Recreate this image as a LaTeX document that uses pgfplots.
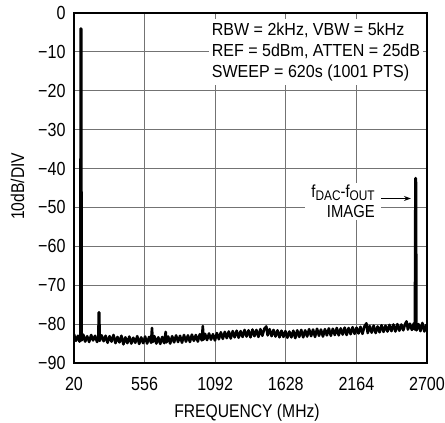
\documentclass[border=0pt]{standalone}
\usepackage{fontspec}
\setmainfont{Liberation Sans}[FakeStretch=0.85]
\newfontfamily\annfont{Liberation Sans}[FakeStretch=0.92]
\usepackage{pgfplots}
\pgfplotsset{compat=1.18}
\usetikzlibrary{arrows.meta}

\pgfplotstableread{
f     p
20    -82.6
35    -84.3
50    -83.0
62    -84.5
68    -83.4
71    -4
75    -4
78    -84.2
90    -82.7
105   -84.5
120   -83.1
135   -84.6
150   -82.8
165   -84.2
180   -83.0
195   -84.6
205   -83.2
208   -77
212   -77
215   -84.3
230   -82.9
245   -84.4
260   -83.0
275   -84.8
290   -83.1
305   -84.5
320   -82.8
335   -84.9
350   -83.3
365   -84.7
380   -83.0
395   -85.2
410   -83.4
425   -84.9
440   -83.2
455   -85.0
470   -83.5
485   -84.8
500   -83.1
515   -85.1
530   -83.4
545   -84.9
560   -83.2
575   -85.0
590   -83.3
605   -84.8
612   -81.0
618   -84.6
630   -83.1
645   -85.0
660   -83.4
675   -85.1
690   -83.3
705   -84.9
716   -82.0
722   -84.7
735   -83.2
750   -85.0
765   -83.1
780   -84.7
795   -82.9
810   -84.6
825   -83.0
840   -84.8
855   -82.8
870   -84.5
885   -82.9
900   -84.6
915   -82.7
930   -84.3
945   -82.8
960   -84.5
975   -82.6
990   -84.2
998   -80.5
1003  -84.0
1015  -82.5
1030  -84.1
1045  -82.4
1060  -84.0
1075  -82.6
1090  -84.2
1105  -82.3
1120  -83.9
1135  -82.1
1150  -83.8
1165  -82.0
1180  -83.6
1195  -81.9
1210  -83.7
1225  -81.8
1240  -83.4
1255  -81.7
1270  -83.5
1285  -81.8
1300  -83.3
1315  -81.5
1330  -83.2
1345  -81.6
1360  -83.4
1375  -81.4
1390  -83.1
1405  -81.5
1420  -83.3
1435  -81.3
1450  -83.0
1465  -81.2
1480  -80.6
1490  -82.9
1505  -81.3
1520  -83.1
1535  -81.5
1550  -83.2
1565  -81.6
1580  -83.4
1595  -81.7
1610  -83.3
1625  -81.8
1640  -83.5
1655  -81.9
1670  -83.4
1685  -81.7
1700  -83.6
1715  -81.6
1730  -83.3
1745  -81.5
1760  -83.4
1775  -81.6
1790  -83.2
1805  -81.3
1820  -83.1
1835  -81.4
1850  -83.3
1865  -81.2
1880  -83.0
1895  -81.4
1910  -83.2
1925  -81.3
1940  -82.9
1955  -81.1
1970  -83.0
1985  -81.2
2000  -82.8
2015  -81.0
2030  -82.9
2045  -81.1
2060  -82.7
2075  -80.9
2090  -82.8
2105  -81.0
2120  -82.6
2135  -80.8
2150  -82.5
2165  -80.9
2180  -82.4
2195  -80.7
2210  -82.5
2225  -80.6
2240  -79.8
2250  -82.3
2265  -80.5
2280  -82.2
2295  -80.4
2310  -82.3
2325  -80.6
2340  -82.1
2355  -80.3
2370  -82.0
2385  -80.4
2400  -81.9
2415  -80.2
2430  -81.8
2445  -80.1
2460  -81.9
2475  -80.0
2490  -81.7
2505  -80.1
2520  -81.6
2535  -79.9
2545  -79.3
2555  -81.4
2570  -79.9
2585  -81.5
2600  -79.8
2608  -81.4
2612  -42.5
2616  -42.5
2620  -81.6
2635  -80.0
2650  -81.8
2665  -79.7
2680  -81.9
2695  -80.2
2700  -81.6
}\spectrum

\newcommand{\sub}[1]{\raisebox{-0.18em}{\fontsize{14}{14}\selectfont #1}}

\begin{document}
\begin{tikzpicture}
\begin{axis}[
  scale only axis,
  width=353bp, height=350bp,
  xmin=20, xmax=2700,
  ymin=-90, ymax=0,
  xtick={20,556,1092,1628,2164,2700},
  xticklabels={20,556,1092,1628,2164,2700},
  ytick={-90,-80,...,0},
  yticklabels={−90,−80,−70,−60,−50,−40,−30,−20,−10,0},
  major tick length=0pt,
  grid=major,
  major grid style={black!55, line width=0.9bp},
  axis line style={line width=1.4bp},
  tick label style={font=\fontsize{19}{21}\selectfont},
  xticklabel style={yshift=-11bp},
  yticklabel style={xshift=-5bp},
  xlabel={FREQUENCY (MHz)},
  ylabel={10dB/DIV},
  label style={font=\fontsize{18.5}{20}\selectfont},
  xlabel style={at={(axis description cs:0.49,-0.157)}, anchor=base},
  ylabel style={at={(axis description cs:-0.1416,0.505)}, anchor=base},
  clip=true,
]
\addplot[black, line width=2.6bp, line join=round] table[x=f, y=p] {\spectrum};

\node[anchor=north east, fill=white, align=left, inner sep=3bp,
      font=\annfont\fontsize{17.5}{21.5}\selectfont]
  at (axis cs:2672,-1.6)
  {RBW = 2kHz, VBW = 5kHz\\REF = 5dBm, ATTEN = 25dB\\SWEEP = 620s (1001 PTS)};

\node[anchor=east, fill=white, align=right, inner xsep=6bp, inner ysep=2bp,
      font=\fontsize{17.5}{20.5}\selectfont]
  at (axis cs:2350,-48.4)
  {f\sub{DAC}-f\sub{OUT}\\IMAGE};

\draw[-{Stealth[length=7bp,width=5bp]}, line width=0.9bp]
  (axis cs:2352,-47.7) -- (axis cs:2578,-47.7);
\end{axis}
\pgfresetboundingbox
\path (current axis.south west) ++(-74bp,-60bp) rectangle
      ([shift={(18bp,13bp)}]current axis.north east);
\end{tikzpicture}
\end{document}
